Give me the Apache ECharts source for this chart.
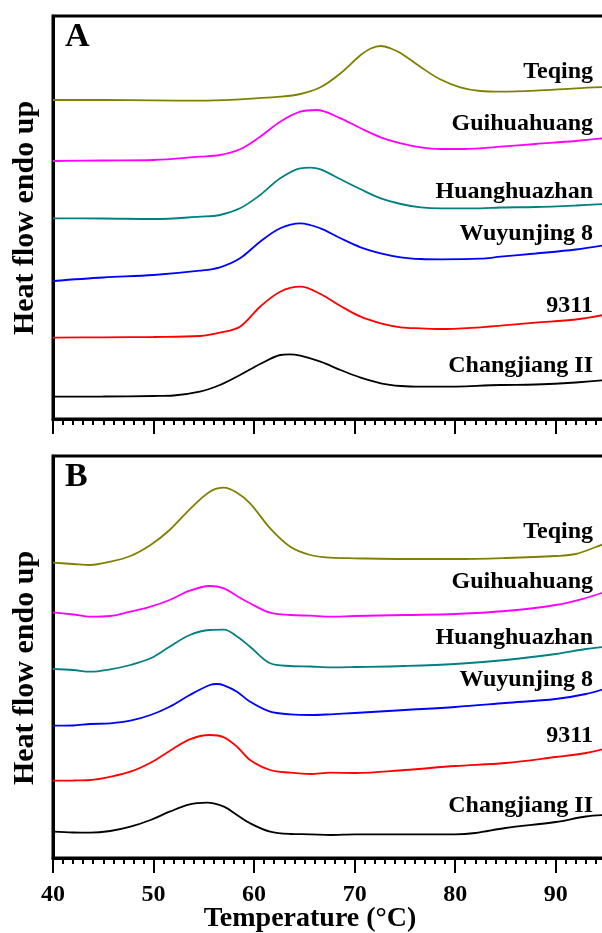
<!DOCTYPE html>
<html><head><meta charset="utf-8">
<script src="https://cdn.jsdelivr.net/npm/echarts@6/dist/echarts.min.js"></script>
<style>html,body{margin:0;padding:0;background:#fff}#c{width:602px;height:933px}</style>
</head><body><div id="c"></div>
<script>
// Temperature ticks
const xTicks = [40, 50, 60, 70, 80, 90];
const seriesNames = ['Teqing', 'Guihuahuang', 'Huanghuazhan', 'Wuyunjing 8', '9311', 'Changjiang II'];
const seriesColors = ['#808000', '#ff00ff', '#008080', '#0000ff', '#ff0000', '#000000'];

// Panel A (heat flow, arbitrary units, offset curves) [T, value]
const A_Teqing = [[40,319],[45,319],[50,318.7],[54.6,318.3],[58.6,319.7],[62.6,322.3],[64.6,325],[66.6,331.7],[68.6,345.7],[70.6,364],[71.6,370.5],[72.6,373],[73.6,370.5],[74.6,365.7],[76.6,351.7],[78.5,339.7],[80.5,331.7],[82.5,328],[84.5,327.3],[88,328.3],[92,330.7],[95,332]];
const A_Guihuahuang = [[40,258],[45,258.5],[50,259],[54.6,262.3],[56.6,264],[58.6,269.7],[60.6,282.3],[62.6,297.3],[64.6,307.3],[66.2,309],[68.6,300.7],[70.6,290.7],[72.6,281.7],[74.6,275.7],[76.6,271.7],[78.5,270],[80.5,270],[82.5,270.7],[84.5,272.3],[88,275],[92,278],[95,281]];
const A_Huanghuazhan = [[40,200.7],[45,200.5],[50,200],[54.6,202.3],[56.6,204],[58.6,210.7],[60.6,224],[62.6,240.7],[64.6,250.7],[65.6,251.3],[66.6,249.7],[68.6,239.7],[70.6,229.7],[72.6,220.7],[74.6,215],[76.6,211.7],[78.5,210.7],[82.5,210.7],[84.5,211.5],[88,212],[92,213.5],[95,215]];
const A_Wuyunjing8 = [[40,138],[45,141.5],[50,144],[54.6,148.3],[56.6,151.7],[58.6,160.7],[60.6,177.3],[62.6,190.7],[64.6,195.7],[66.6,190.7],[68.6,180.7],[70.6,171.7],[72.6,165.7],[74.6,161.7],[76.6,160],[78.5,159.7],[82.5,160.3],[84.5,162.3],[88,165.5],[92,169.5],[95,174]];
const A_9311 = [[40,81.3],[45,81.7],[50,82],[54.6,83],[56.6,86.3],[58.6,92.3],[60.6,112.3],[62.6,127.3],[64.6,132.3],[66.6,125],[68.6,113],[70.6,102.3],[72.6,95.7],[74.6,91.7],[76.6,90.7],[78.5,90],[82.5,91.7],[84.5,93.3],[88,96.3],[92,99.5],[95,104.5]];
const A_Changjiang = [[40,22.3],[45,22.5],[50,23],[52,23.5],[54.6,27.3],[56.6,34],[58.6,44],[60.6,55],[62.6,64],[63.5,64.7],[64.6,63.3],[66.6,57.3],[68.6,49],[70.6,41.3],[72.6,35.7],[74.6,33],[76.6,32.3],[78.5,32.3],[84.5,34],[88,34.5],[92,36.5],[95,39]];

// Panel B
const B_Teqing = [[40,295.3],[42,294],[43.7,293],[45.7,296.3],[47.7,302],[49.7,313],[51.6,328],[53.6,348.7],[55.6,366.3],[57,370.3],[58.3,365.3],[59.6,354.7],[61.6,329.7],[63.6,311.3],[65.6,303],[67.6,300.3],[70,299.7],[75,299],[80,299],[85,300],[90,302],[92,304],[94,311],[95,314.7]];
const B_Guihuahuang = [[40,245.7],[42,243.5],[43.7,241.3],[45.7,242],[47.7,246.3],[49.7,251.3],[51.6,258],[53.6,267.3],[55.6,272],[57,269.7],[58.3,262],[59.6,254.7],[61.6,245.3],[63.6,243],[65.6,242.3],[67.6,241.3],[70,242],[75,243],[80,244],[85,247],[90,253],[93,260],[95,266.5]];
const B_Huanghuazhan = [[40,189],[42,188],[43.7,186.3],[45.7,188.7],[47.7,193],[49.7,199.7],[51.6,211.3],[53.6,223],[55.6,228],[57,228.3],[58.3,221.5],[59.6,211.3],[61.6,194.7],[63.6,192],[65.6,191.5],[67.6,190.7],[70,191],[75,192],[80,194],[85,198],[90,204],[93,209],[95,211.3]];
const B_Wuyunjing8 = [[40,132.3],[42,132.5],[43.7,134],[45.7,134.7],[47.7,137.3],[49.7,143],[51.6,151.3],[53.6,163],[55.6,173],[56.3,174],[57,172.7],[58.3,166.3],[59.6,156.3],[61.6,146.3],[63.6,143.7],[65.6,143],[67.6,143.7],[70,145],[75,148],[80,151],[85,155],[90,159],[93,164],[95,169.7]];
const B_9311 = [[40,77.3],[42,77.5],[43.7,78],[45.7,81.3],[47.7,86.3],[49.7,95.3],[51.6,107],[53.6,118.7],[55.6,123],[57,120.7],[58.3,111.3],[59.6,98],[61.6,88],[63.6,85.3],[65.6,84],[67.6,85.3],[70,85],[75,88],[80,92],[85,95],[90,101],[93,105],[95,109.7]];
const B_Changjiang = [[40,26.3],[42,25.5],[43.7,25.3],[45.7,27],[47.7,31.3],[49.7,38],[51.6,46.3],[53.6,53.7],[55.3,55.3],[57,51.3],[58.3,43],[59.6,34.7],[61.6,26.3],[63.6,24],[65.6,23.7],[67.6,23],[70,23.7],[80,23.7],[82,25],[85,30],[90,36],[93,41.5],[95,43]];

const panelA = [A_Teqing, A_Guihuahuang, A_Huanghuazhan, A_Wuyunjing8, A_9311, A_Changjiang];
const panelB = [B_Teqing, B_Guihuahuang, B_Huanghuazhan, B_Wuyunjing8, B_9311, B_Changjiang];

const FONT = "'Liberation Serif','Times New Roman',serif";
const chart = echarts.init(document.getElementById('c'), null, {renderer: 'canvas'});

function xAxisCfg(gi, showLabels) {
  return {
    type: 'value', gridIndex: gi, min: 40, max: 95, interval: 10,
    axisLine: {show: true, onZero: false, lineStyle: {color: '#000', width: 3}},
    axisTick: {show: true, inside: false, length: 15, lineStyle: {color: '#000', width: 2}},
    minorTick: {show: true, splitNumber: 10, length: 6, lineStyle: {color: '#000', width: 2}},
    splitLine: {show: false},
    axisLabel: {show: showLabels, margin: 25, color: '#000', fontFamily: FONT, fontWeight: 'bold', fontSize: 24,
      formatter: v => (xTicks.indexOf(v) >= 0 ? String(v) : '')}
  };
}
function yAxisCfg(gi, max) {
  return {type: 'value', gridIndex: gi, min: 0, max: max,
    axisLine: {show: true, lineStyle: {color: '#000', width: 3}},
    axisTick: {show: false}, axisLabel: {show: false}, splitLine: {show: false}};
}

const series = [];
[panelA, panelB].forEach((panel, gi) => {
  panel.forEach((d, i) => {
    series.push({
      type: 'line', name: seriesNames[i], xAxisIndex: gi, yAxisIndex: gi,
      data: d, smooth: 0.35, symbol: 'none',
      lineStyle: {color: seriesColors[i], width: 1.8}
    });
  });
});

const labelYA = [72, 124, 192, 234, 306, 366];
const labelYB = [532, 582, 638, 680, 736, 806];
const graphics = [];
seriesNames.forEach((n, i) => {
  [labelYA[i], labelYB[i]].forEach(y => {
    graphics.push({type: 'text', x: 593, y: y, style: {text: n, textAlign: 'right', textVerticalAlign: 'middle',
      font: 'bold 24px ' + FONT, fill: '#000'}});
  });
});
graphics.push({type: 'text', x: 65, y: 37, style: {text: 'A', textAlign: 'left', textVerticalAlign: 'middle', font: 'bold 34px ' + FONT, fill: '#000'}});
graphics.push({type: 'text', x: 65, y: 477, style: {text: 'B', textAlign: 'left', textVerticalAlign: 'middle', font: 'bold 34px ' + FONT, fill: '#000'}});
[218, 668].forEach(y => {
  graphics.push({type: 'text', x: 25, y: y, rotation: Math.PI / 2,
    style: {text: 'Heat flow endo up', textAlign: 'center', textVerticalAlign: 'middle', font: 'bold 30px ' + FONT, fill: '#000'}});
});
graphics.push({type: 'text', x: 310, y: 919, style: {text: 'Temperature (°C)', textAlign: 'center', textVerticalAlign: 'middle', font: 'bold 28px ' + FONT, fill: '#000'}});

chart.setOption({
  animation: false,
  backgroundColor: '#fff',
  grid: [
    {left: 53, top: 16, width: 553, height: 403, outerBoundsMode: 'none', show: true, borderColor: '#000', borderWidth: 3, backgroundColor: 'transparent'},
    {left: 53, top: 456, width: 553, height: 402, outerBoundsMode: 'none', show: true, borderColor: '#000', borderWidth: 3, backgroundColor: 'transparent'}
  ],
  xAxis: [xAxisCfg(0, false), xAxisCfg(1, true)],
  yAxis: [yAxisCfg(0, 403), yAxisCfg(1, 402)],
  series: series,
  graphic: graphics
});
</script></body></html>
